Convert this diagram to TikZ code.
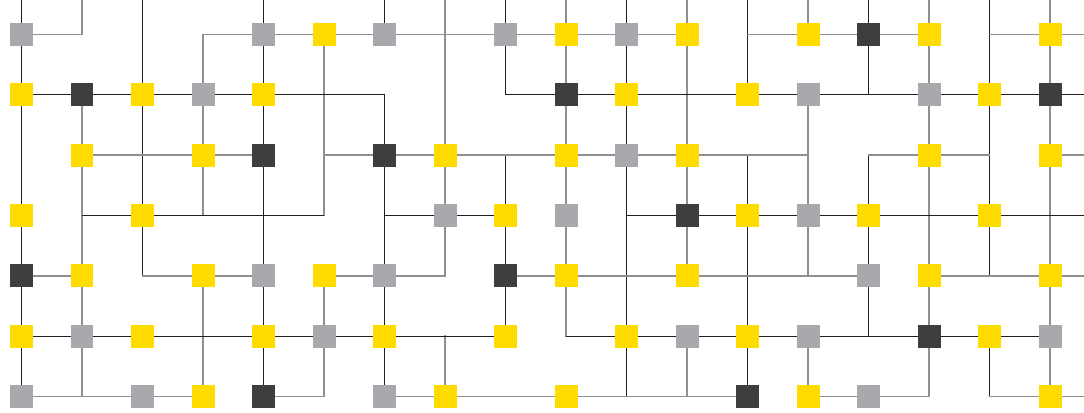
\documentclass[tikz,border=0pt]{standalone}
\definecolor{sqyellow}{HTML}{FFDC00}
\definecolor{sqgray}{HTML}{A7A9AC}
\definecolor{sqdark}{HTML}{3E3E3E}
\definecolor{linedark}{HTML}{231F20}
\definecolor{linegray}{HTML}{8F8F8F}
\tikzset{
    dkline/.style={draw=linedark, line width=0.55pt, line cap=rect},
    gyline/.style={draw=linegray, line width=0.95pt, line cap=rect},
    cell/.style={minimum size=0.46cm, inner sep=0pt, outer sep=0pt},
    ysq/.style={cell, fill=sqyellow},
    gsq/.style={cell, fill=sqgray},
    dsq/.style={cell, fill=sqdark}
}
\begin{document}
\begin{tikzpicture}[x=0.02cm, y=-0.02cm]
    \useasboundingbox (0,0) rectangle (1084,412);

    % grid points
    \foreach \r in {0,...,6}{
        \foreach \c in {0,...,17}
            \coordinate (p-\c-\r) at ({21.5+60.5*\c},{34.5+60.33*\r});
        \coordinate (p-18-\r) at (1084,{34.5+60.33*\r});
    }
    \foreach \c in {0,...,17}
        \coordinate (p-\c-top) at ({21.5+60.5*\c},0);

    % vertical wires
    \foreach \c in {0,1,2,4,6,7,8,9,10,11,12,13,14,15,16,17}{
        \ifodd\c \def\ls{gyline}\else \def\ls{dkline}\fi
        \draw[\ls] (p-\c-top) -- (p-\c-0);
    }
    \foreach \r/\cols in {
        1/{0,2,3,4,5,7,8,9,10,11,12,14,15,16,17},
        2/{0,1,2,3,4,5,6,7,9,10,11,13,15,16,17},
        3/{0,1,2,3,4,5,6,7,8,9,10,11,12,13,14,15,16,17},
        4/{0,1,2,4,6,7,8,9,10,11,12,13,14,15,16,17},
        5/{0,1,3,4,5,6,8,9,10,12,14,15,17},
        6/{0,1,3,4,5,6,7,10,11,12,13,15,16,17}}{
        \pgfmathtruncatemacro\q{\r-1}
        \foreach \c in \cols{
            \ifodd\c \def\ls{gyline}\else \def\ls{dkline}\fi
            \draw[\ls] (p-\c-\q) -- (p-\c-\r);
        }
    }

    % horizontal wires
    \foreach \r/\cols in {
        0/{0,3,4,5,6,7,8,9,10,12,13,14,16,17},
        1/{0,1,2,3,4,5,8,9,10,11,12,13,14,15,16,17},
        2/{1,2,3,5,6,7,8,9,10,11,12,14,15,17},
        3/{1,2,3,4,6,7,10,11,12,13,14,15,16,17},
        4/{0,2,3,5,6,8,9,10,11,12,13,15,16,17},
        5/{0,1,2,3,4,5,6,7,9,10,11,12,13,14,15,16},
        6/{0,1,2,4,6,7,8,9,10,11,13,14,16,17}}{
        \ifodd\r \def\ls{dkline}\else \def\ls{gyline}\fi
        \foreach \c in \cols{
            \pgfmathtruncatemacro\n{\c+1}
            \draw[\ls] (p-\c-\r) -- (p-\n-\r);
        }
    }

    % squares
    \foreach \r/\cells in {
        0/{0/gsq,4/gsq,5/ysq,6/gsq,8/gsq,9/ysq,10/gsq,11/ysq,13/ysq,14/dsq,15/ysq,17/ysq},
        1/{0/ysq,1/dsq,2/ysq,3/gsq,4/ysq,9/dsq,10/ysq,12/ysq,13/gsq,15/gsq,16/ysq,17/dsq},
        2/{1/ysq,3/ysq,4/dsq,6/dsq,7/ysq,9/ysq,10/gsq,11/ysq,15/ysq,17/ysq},
        3/{0/ysq,2/ysq,7/gsq,8/ysq,9/gsq,11/dsq,12/ysq,13/gsq,14/ysq,16/ysq},
        4/{0/dsq,1/ysq,3/ysq,4/gsq,5/ysq,6/gsq,8/dsq,9/ysq,11/ysq,14/gsq,15/ysq,17/ysq},
        5/{0/ysq,1/gsq,2/ysq,4/ysq,5/gsq,6/ysq,8/ysq,10/ysq,11/gsq,12/ysq,13/gsq,15/dsq,16/ysq,17/gsq},
        6/{0/gsq,2/gsq,3/ysq,4/dsq,6/gsq,7/ysq,9/ysq,12/dsq,13/ysq,14/gsq,17/ysq}}{
        \foreach \c/\k in \cells
            \node[\k] (s-\c-\r) at (p-\c-\r) {};
    }
\end{tikzpicture}
\end{document}
